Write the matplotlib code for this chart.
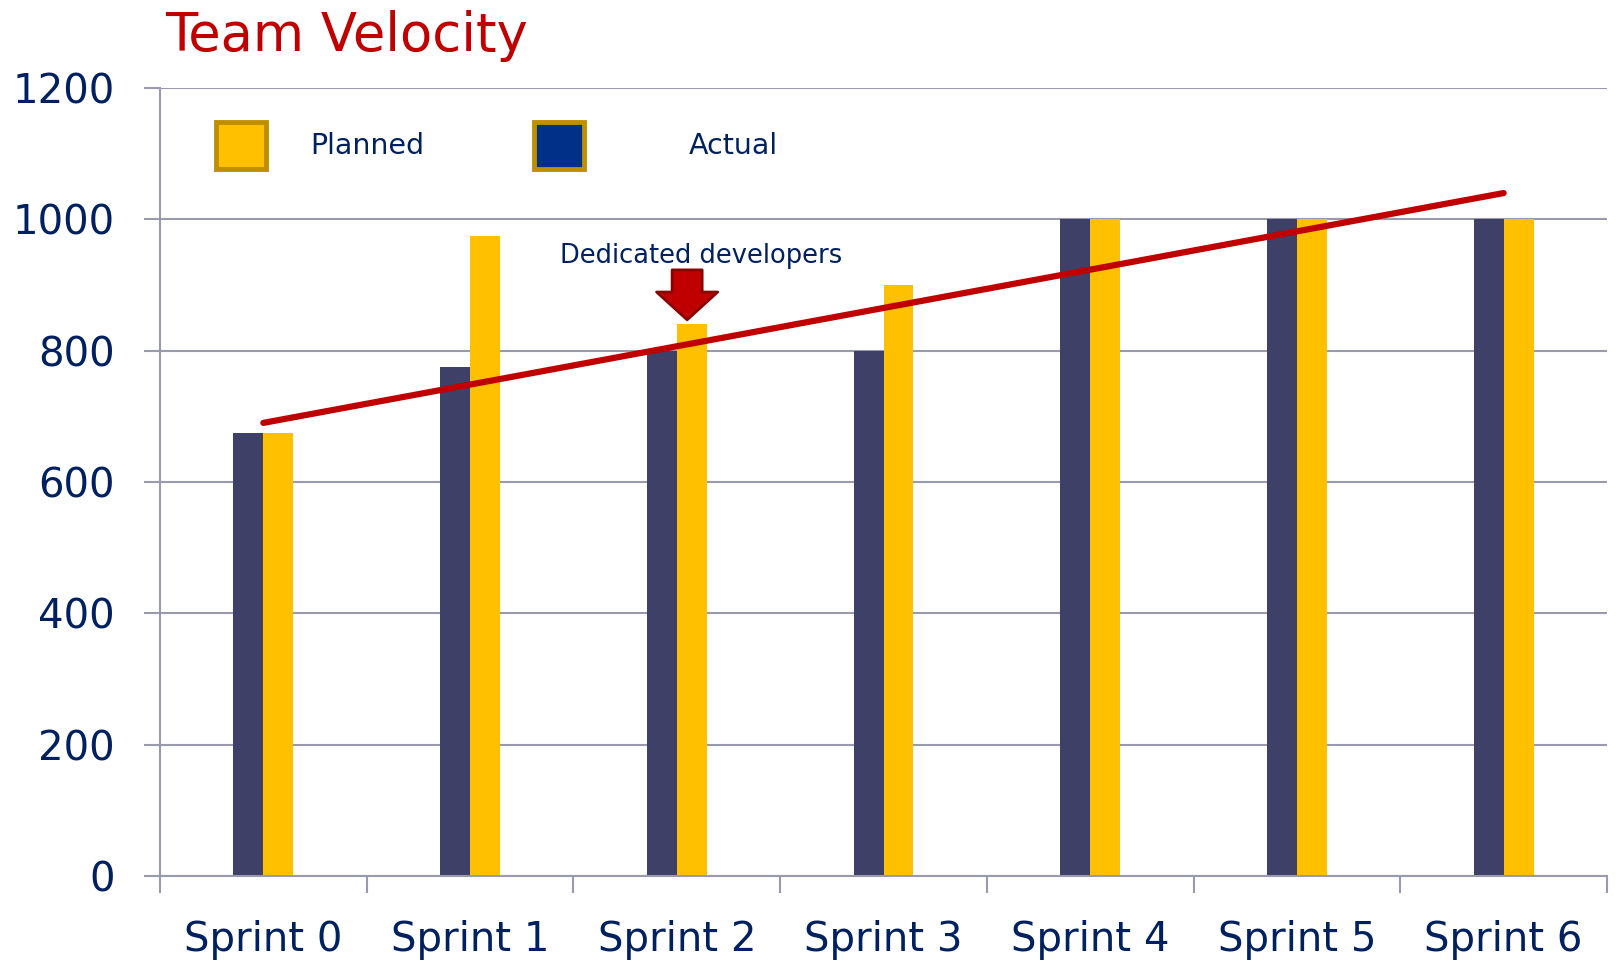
import matplotlib
matplotlib.use("Agg")
import matplotlib.pyplot as plt
import numpy as np
from matplotlib.patches import Patch

# data
sprints = ["Sprint 0", "Sprint 1", "Sprint 2", "Sprint 3", "Sprint 4", "Sprint 5", "Sprint 6"]
actual = [675, 775, 800, 800, 1000, 1000, 1000]
planned = [675, 975, 840, 900, 1000, 1000, 1000]
trend = [690, 1040]  # trend line value at first and last sprint
annot_sprint = 2
annot_tip, annot_top, annot_label = 847, 923, 933

navy = "#002060"
red = "#C00000"
grid_c = "#9A9AAE"

fig = plt.figure(figsize=(16.18, 9.66), dpi=100)
ax = fig.add_axes([0.0989, 0.0932, 0.8943, 0.8157])

x = np.arange(len(sprints))
w = 0.145
ax.bar(x - w / 2, actual, width=w, color="#3F4068", zorder=2)
ax.bar(x + w / 2, planned, width=w, color="#FFC000", zorder=2)

# trend line
ax.plot([x[0], x[-1]], trend, color=red, lw=4.5, solid_capstyle="round", zorder=4)

# annotation arrow
ax.annotate("", xy=(annot_sprint + 0.05, annot_tip), xytext=(annot_sprint + 0.05, annot_top),
            arrowprops=dict(arrowstyle="simple,head_length=1.0,head_width=2.2,tail_width=1.08",
                            mutation_scale=20, fc=red, ec="#8B0000", lw=2,
                            shrinkA=0, shrinkB=0), zorder=5)
ax.text(annot_sprint + 0.12, annot_label, "Dedicated developers", color=navy,
        fontsize=18.5, ha="center", va="baseline")

# axes styling
ax.set_xlim(-0.5, len(sprints) - 0.5)
ax.set_ylim(0, 1200)
ax.set_yticks(np.arange(0, 1201, 200))
ax.yaxis.grid(True, color=grid_c, lw=1.5, zorder=0)
ax.set_axisbelow(True)
ax.set_xticks(x)
ax.set_xticklabels(sprints)
ax.set_xticks(np.arange(-0.5, len(sprints)), minor=True)
ax.tick_params(axis="x", which="major", length=0, pad=32, labelsize=29, labelcolor=navy)
ax.tick_params(axis="x", which="minor", length=12, width=1.5, color=grid_c, direction="out")
ax.tick_params(axis="y", length=11.5, width=1.5, color=grid_c, pad=21, labelsize=29,
               labelcolor=navy)
for s in ["top", "right"]:
    ax.spines[s].set_visible(False)
for s in ["left", "bottom"]:
    ax.spines[s].set_color(grid_c)
    ax.spines[s].set_linewidth(1.5)

# legend, two separate entries spaced like the original
edge = "#BF8F00"
leg1 = ax.legend(handles=[Patch(fc="#FFC000", ec=edge, lw=3.5)], labels=["Planned"],
                 loc="upper left", bbox_to_anchor=(0.039, 0.957), frameon=False,
                 fontsize=20.5, labelcolor=navy, handlelength=1.75, handleheight=2.15,
                 handletextpad=1.55, borderpad=0, borderaxespad=0)
ax.add_artist(leg1)
ax.legend(handles=[Patch(fc="#003087", ec=edge, lw=3.5)], labels=["Actual"],
          loc="upper left", bbox_to_anchor=(0.2585, 0.957), frameon=False,
          fontsize=20.5, labelcolor=navy, handlelength=1.75, handleheight=2.15,
          handletextpad=3.7, borderpad=0, borderaxespad=0)

fig.text(165 / 1618, 1 - 51 / 966, "Team Velocity", color=red, fontsize=38,
         ha="left", va="baseline")

fig.savefig("out.png", dpi=100)
